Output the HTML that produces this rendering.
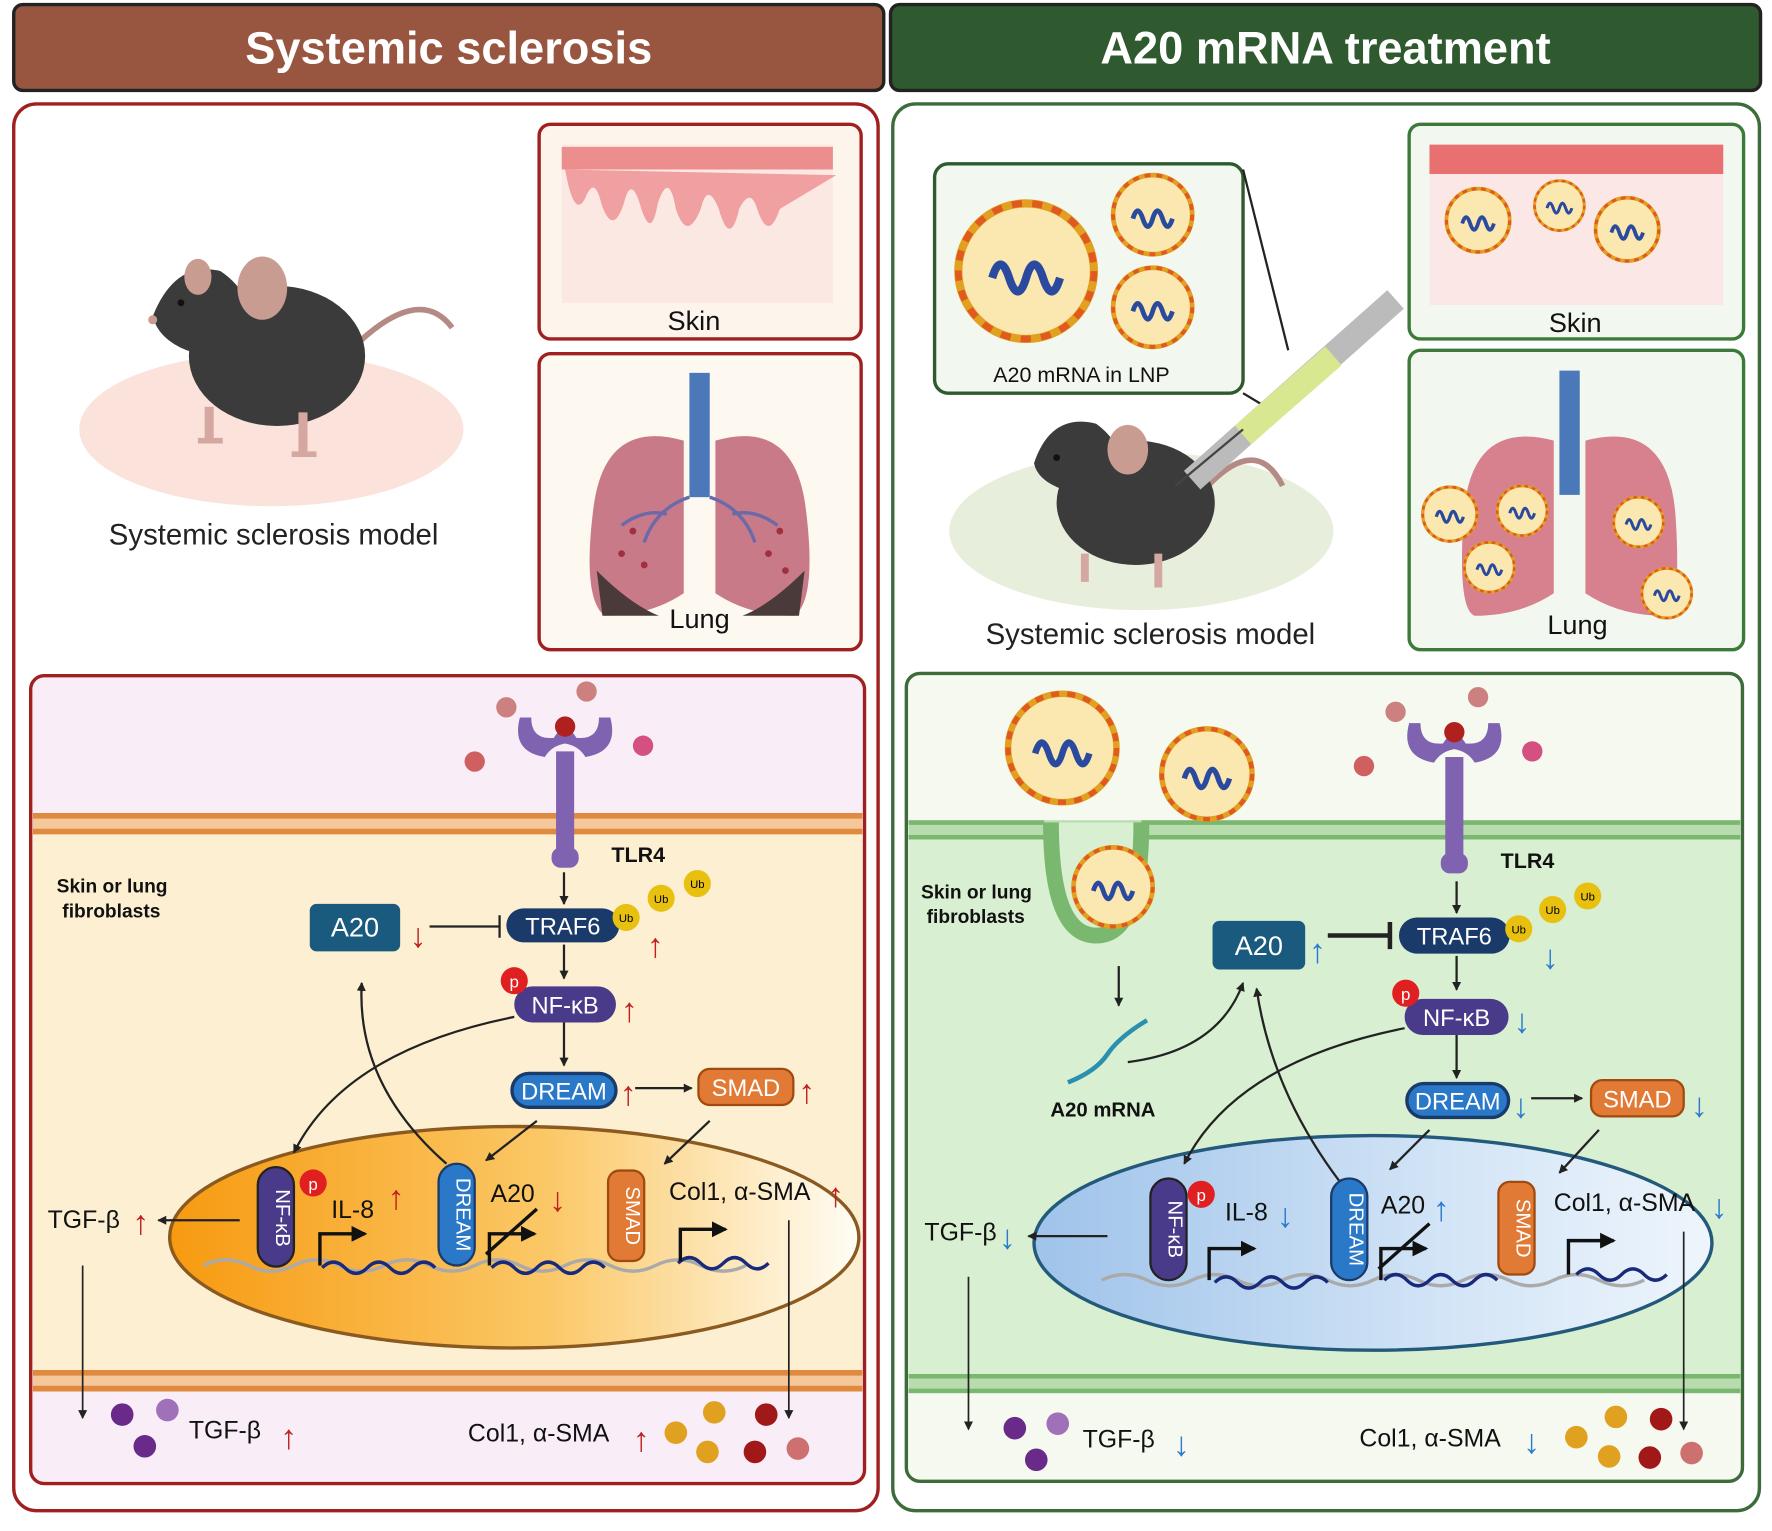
<!DOCTYPE html>
<html><head><meta charset="utf-8"><style>
html,body{margin:0;padding:0;background:#fff}
svg{display:block}
text{font-family:"Liberation Sans",sans-serif}
.ur{font-size:30px;fill:#c02020;font-weight:bold}
.ub{font-size:30px;fill:#2a7ad0;font-weight:bold}
</style></head><body>
<svg width="1772" height="1531" viewBox="0 0 1568 1355" xmlns="http://www.w3.org/2000/svg">
<defs>
<linearGradient id="ng1" x1="0" x2="1"><stop offset="0" stop-color="#f79a10"/><stop offset="0.55" stop-color="#fbc867"/><stop offset="1" stop-color="#fffdf5"/></linearGradient>
<linearGradient id="ng2" x1="0" x2="1"><stop offset="0" stop-color="#9fc3ea"/><stop offset="0.6" stop-color="#d2e4f6"/><stop offset="1" stop-color="#eef5fc"/></linearGradient>
<marker id="ar" markerWidth="8" markerHeight="8" refX="7" refY="4" orient="auto" markerUnits="userSpaceOnUse"><path d="M0,0 L8,4 L0,8 z" fill="#222"/></marker>
<marker id="arb" markerWidth="14" markerHeight="14" refX="12" refY="7" orient="auto" markerUnits="userSpaceOnUse"><path d="M0,0 L14,7 L0,14 z" fill="#111"/></marker>
<g id="lnp"><circle r="1" fill="#fbe7b0" stroke="#e2a020" stroke-width="0.12"/><circle r="1" fill="none" stroke="#e05a20" stroke-width="0.1" stroke-dasharray="0.15 0.15"/><path d="M-0.5,0.1 q0.12,-0.4 0.25,0 t0.25,0 t0.25,0 t0.25,0" fill="none" stroke="#2a4aa0" stroke-width="0.12"/></g>
<g id="tlr"><path d="M-40,-30 q-8,30 22,35 q6,-10 18,-12 q12,2 18,12 q30,-5 22,-35 l-10,0 q0,20 -20,18 q-10,-16 -20,0 q-20,2 -20,-18 z" fill="#7f62b0"/><rect x="-8" y="0" width="16" height="90" fill="#7f62b0"/><rect x="-12" y="85" width="24" height="18" rx="8" fill="#7f62b0"/><circle cx="0" cy="-22" r="9" fill="#b0201f"/></g>
</defs>

<rect x="12" y="4" width="770" height="76" rx="8" fill="#985640" stroke="#222" stroke-width="3"/>
<text x="397" y="56" font-size="40" font-weight="bold" fill="#fff" text-anchor="middle">Systemic sclerosis</text>
<rect x="788" y="4" width="770" height="76" rx="8" fill="#2f5a2f" stroke="#222" stroke-width="3"/>
<text x="1173" y="56" font-size="40" font-weight="bold" fill="#fff" text-anchor="middle">A20 mRNA treatment</text>

<rect x="12" y="92" width="765" height="1245" rx="20" fill="#fff" stroke="#a02020" stroke-width="3"/>
<rect x="790" y="92" width="767" height="1245" rx="20" fill="#fff" stroke="#3d6b3a" stroke-width="3"/>

<!-- LEFT top -->
<ellipse cx="240" cy="380" rx="170" ry="68" fill="#fbe3dc"/>
<path d="M310,310 q60,-60 90,-20" fill="none" stroke="#b58a85" stroke-width="5"/>
<ellipse cx="245" cy="315" rx="78" ry="62" fill="#3b3b3b"/>
<path d="M135,280 q20,-50 60,-40 q30,20 30,60 q-30,20 -60,10 q-25,-10 -30,-30z" fill="#3b3b3b"/>
<ellipse cx="232" cy="255" rx="22" ry="28" fill="#c99c92"/>
<ellipse cx="175" cy="245" rx="12" ry="16" fill="#c99c92"/>
<circle cx="160" cy="268" r="3" fill="#111"/>
<circle cx="135" cy="283" r="4" fill="#c99c92"/>
<path d="M185,360 l0,28 M268,365 l0,35" stroke="#d4a8a0" stroke-width="8"/>
<path d="M175,390 h22 M258,402 h22" stroke="#d4a8a0" stroke-width="5"/>
<text x="242" y="482" font-size="26" text-anchor="middle" fill="#222">Systemic sclerosis model</text>

<rect x="477" y="110" width="285" height="190" rx="10" fill="#fdf5ec" stroke="#a02020" stroke-width="3"/>
<rect x="497" y="128" width="240" height="140" fill="#fbe8e2"/>
<path d="M497,130 h240 v20 h-240z" fill="#ec8e8e"/>
<path d="M500,150 q8,45 18,25 q8,-20 14,5 q10,30 20,0 q6,-25 14,0 q10,35 16,0 q10,-30 16,5 q10,30 22,0 q6,-25 16,0 q10,35 18,0 q10,-20 16,0 q10,30 20,0 l50,-30z" fill="#f0a0a0"/>
<text x="614" y="292" font-size="24" text-anchor="middle" fill="#111">Skin</text>

<rect x="477" y="313" width="285" height="262" rx="10" fill="#fdf8f0" stroke="#a02020" stroke-width="3"/>
<path d="M605,390 q-70,-20 -80,60 q-10,80 10,95 q40,0 70,-20 z" fill="#c97a88"/>
<path d="M633,390 q70,-20 80,60 q10,80 -10,95 q-40,0 -70,-20 z" fill="#c97a88"/>
<rect x="610" y="330" width="18" height="110" fill="#4a78b8"/>
<path d="M610,440 q-30,10 -40,40 M590,455 q-20,-5 -40,10 M628,440 q30,10 40,40 M648,455 q20,-5 40,10" stroke="#6a6aa8" stroke-width="3" fill="none"/>
<path d="M528,505 q30,30 55,40 l-50,0 z M712,505 q-30,30 -55,40 l50,0 z" fill="#4a3a3a"/>
<g fill="#a03040"><circle cx="550" cy="490" r="3"/><circle cx="570" cy="500" r="3"/><circle cx="680" cy="490" r="3"/><circle cx="695" cy="505" r="3"/><circle cx="560" cy="470" r="3"/><circle cx="690" cy="470" r="3"/></g>
<text x="619" y="556" font-size="24" text-anchor="middle" fill="#111">Lung</text>

<!-- LEFT cell -->
<rect x="27" y="598" width="738" height="715" rx="12" fill="#f9eef8" stroke="#a02020" stroke-width="3"/>
<rect x="29" y="738" width="734" height="475" fill="#fdf0d2"/>
<rect x="29" y="720" width="734" height="18" fill="#f4c89a"/>
<path d="M29,722 h734 M29,736 h734" stroke="#e08a40" stroke-width="5"/>
<rect x="29" y="1213" width="734" height="18" fill="#f4c89a"/>
<path d="M29,1215 h734 M29,1229 h734" stroke="#e08a40" stroke-width="5"/>
<ellipse cx="455" cy="1095" rx="305" ry="98" fill="url(#ng1)" stroke="#8a5a20" stroke-width="3"/>
<circle cx="448" cy="626" r="9" fill="#cc8080"/><circle cx="519" cy="612" r="9" fill="#cc8080"/><circle cx="420" cy="674" r="9" fill="#d06060"/><circle cx="569" cy="660" r="9" fill="#d45080"/>
<use href="#tlr" transform="translate(500,665)"/>
<text x="541" y="763" font-size="19" font-weight="bold" fill="#111">TLR4</text>
<text x="50" y="790" font-size="17" font-weight="bold" fill="#111">Skin or lung</text>
<text x="55" y="812" font-size="17" font-weight="bold" fill="#111">fibroblasts</text>
<rect x="274" y="800" width="80" height="42" rx="6" fill="#1a5a7e"/>
<text x="314" y="829" font-size="24" fill="#fff" text-anchor="middle">A20</text>
<text x="370" y="838" class="ur" text-anchor="middle">↓</text>
<path d="M380,820 h62 M442,810 v20" stroke="#222" stroke-width="2"/>
<rect x="448" y="804" width="100" height="30" rx="15" fill="#1a3a6a"/>
<text x="498" y="827" font-size="21" fill="#fff" text-anchor="middle">TRAF6</text>
<circle cx="554" cy="812" r="12" fill="#e8c010"/><circle cx="585" cy="795" r="12" fill="#e8c010"/><circle cx="617" cy="782" r="12" fill="#e8c010"/>
<text x="554" y="816" font-size="10" text-anchor="middle">Ub</text><text x="585" y="799" font-size="10" text-anchor="middle">Ub</text><text x="617" y="786" font-size="10" text-anchor="middle">Ub</text>
<text x="580" y="847" class="ur" text-anchor="middle">↑</text>
<path d="M499,772 v28" stroke="#222" stroke-width="2" marker-end="url(#ar)"/>
<path d="M499,836 v30" stroke="#222" stroke-width="2" marker-end="url(#ar)"/>
<path d="M499,905 v38" stroke="#222" stroke-width="2" marker-end="url(#ar)"/>
<rect x="455" y="873" width="90" height="32" rx="16" fill="#4a3a8a"/>
<text x="500" y="897" font-size="21" fill="#fff" text-anchor="middle">NF-κB</text>
<circle cx="455" cy="868" r="12" fill="#e02020"/><text x="455" y="874" font-size="15" fill="#fff" text-anchor="middle">p</text>
<text x="557" y="904" class="ur" text-anchor="middle">↑</text>
<rect x="453" y="950" width="92" height="30" rx="15" fill="#2a78c8" stroke="#1a3a6a" stroke-width="3"/>
<text x="499" y="973" font-size="21" fill="#fff" text-anchor="middle">DREAM</text>
<text x="556" y="978" class="ur" text-anchor="middle">↑</text>
<path d="M562,963 h50" stroke="#222" stroke-width="2" marker-end="url(#ar)"/>
<rect x="618" y="946" width="84" height="32" rx="10" fill="#e07a35" stroke="#a04a10" stroke-width="2"/>
<text x="660" y="970" font-size="21" fill="#fff" text-anchor="middle">SMAD</text>
<text x="714" y="976" class="ur" text-anchor="middle">↑</text>
<path d="M455,900 q-150,30 -195,120" fill="none" stroke="#222" stroke-width="2" marker-end="url(#ar)"/>
<path d="M395,1030 q-80,-70 -75,-160" fill="none" stroke="#222" stroke-width="2" marker-end="url(#ar)"/>
<path d="M475,992 l-45,35" stroke="#222" stroke-width="2" marker-end="url(#ar)"/>
<path d="M628,992 l-40,38" stroke="#222" stroke-width="2" marker-end="url(#ar)"/>
<path d="M180,1120 q20,-10 40,0 t40,0 t40,0 t40,0 t40,0 t40,0 t40,0 t40,0 t40,0 t40,0 t40,0 t40,0" fill="none" stroke="#aaa" stroke-width="3"/>
<path d="M285,1122 q10,-10 20,0 t20,0 t20,0 t20,0 t20,0 M435,1122 q10,-10 20,0 t20,0 t20,0 t20,0 t20,0 M600,1118 q10,-10 20,0 t20,0 t20,0 t20,0" fill="none" stroke="#1a2a7a" stroke-width="3"/>
<rect x="228" y="1033" width="32" height="88" rx="16" fill="#4a3a8a" stroke="#222" stroke-width="2"/>
<text x="244" y="1078" font-size="18" fill="#fff" text-anchor="middle" transform="rotate(90 244 1078)">NF-κB</text>
<circle cx="277" cy="1047" r="12" fill="#e02020"/><text x="277" y="1053" font-size="15" fill="#fff" text-anchor="middle">p</text>
<text x="293" y="1078" font-size="22" fill="#111">IL-8</text><text x="343" y="1070" class="ur">↑</text>
<path d="M283,1120 v-28 h40" fill="none" stroke="#111" stroke-width="3" marker-end="url(#arb)"/>
<rect x="388" y="1030" width="32" height="90" rx="16" fill="#2a78c8" stroke="#1a3a6a" stroke-width="2"/>
<text x="404" y="1075" font-size="18" fill="#fff" text-anchor="middle" transform="rotate(90 404 1075)">DREAM</text>
<text x="434" y="1064" font-size="22" fill="#111">A20</text><text x="486" y="1072" class="ur">↓</text>
<path d="M433,1120 v-28 h40" fill="none" stroke="#111" stroke-width="3" marker-end="url(#arb)"/>
<path d="M430,1110 l45,-40" stroke="#111" stroke-width="3"/>
<rect x="538" y="1036" width="32" height="80" rx="10" fill="#e07a35" stroke="#a04a10" stroke-width="2"/>
<text x="554" y="1076" font-size="18" fill="#fff" text-anchor="middle" transform="rotate(90 554 1076)">SMAD</text>
<text x="592" y="1062" font-size="22" fill="#111">Col1, α-SMA</text><text x="732" y="1068" class="ur">↑</text>
<path d="M602,1116 v-28 h40" fill="none" stroke="#111" stroke-width="3" marker-end="url(#arb)"/>
<text x="42" y="1087" font-size="22" fill="#111">TGF-β</text><text x="117" y="1092" class="ur">↑</text>
<path d="M212,1080 h-72" stroke="#222" stroke-width="2" marker-end="url(#ar)"/>
<path d="M73,1120 v135" stroke="#222" stroke-width="1.5" marker-end="url(#ar)"/>
<path d="M698,1080 v175" stroke="#222" stroke-width="1.5" marker-end="url(#ar)"/>
<circle cx="108" cy="1252" r="10" fill="#6a2a8a"/><circle cx="148" cy="1248" r="10" fill="#a070b8"/><circle cx="128" cy="1280" r="10" fill="#6a2a8a"/>
<text x="167" y="1273" font-size="22" fill="#111">TGF-β</text><text x="248" y="1282" class="ur">↑</text>
<text x="414" y="1276" font-size="22" fill="#111">Col1, α-SMA</text><text x="560" y="1284" class="ur">↑</text>
<circle cx="598" cy="1268" r="10" fill="#e0a020"/><circle cx="632" cy="1250" r="10" fill="#e0a020"/><circle cx="626" cy="1285" r="10" fill="#e0a020"/><circle cx="678" cy="1252" r="10" fill="#a01818"/><circle cx="668" cy="1285" r="10" fill="#a01818"/><circle cx="706" cy="1282" r="10" fill="#cc7070"/>

<!-- RIGHT top -->
<rect x="827" y="145" width="273" height="203" rx="12" fill="#f2f8f0" stroke="#2f5a2f" stroke-width="3"/>
<use href="#lnp" transform="translate(908,240) scale(60)"/>
<use href="#lnp" transform="translate(1020,190) scale(35)"/>
<use href="#lnp" transform="translate(1020,272) scale(35)"/>
<text x="957" y="338" font-size="19" text-anchor="middle" fill="#111">A20 mRNA in LNP</text>
<path d="M1100,150 L1140,310 M1100,348 L1120,360" stroke="#222" stroke-width="2"/>
<ellipse cx="1010" cy="470" rx="170" ry="70" fill="#e8eedc"/>
<path d="M1060,440 q50,-60 75,-10" fill="none" stroke="#b58a85" stroke-width="5"/>
<ellipse cx="1005" cy="445" rx="70" ry="55" fill="#3b3b3b"/>
<path d="M915,410 q15,-45 55,-35 q25,18 25,50 q-30,18 -55,8 q-22,-8 -25,-23z" fill="#3b3b3b"/>
<ellipse cx="998" cy="398" rx="18" ry="22" fill="#c99c92"/>
<circle cx="935" cy="405" r="3" fill="#111"/>
<path d="M960,490 v25 M1025,490 v30" stroke="#d4a8a0" stroke-width="7"/>
<path d="M1055,425 L1235,265" stroke="#bbb" stroke-width="22"/>
<path d="M1100,385 L1180,315" stroke="#d8e890" stroke-width="22"/>
<path d="M1040,430 L1100,380" stroke="#444" stroke-width="2"/>
<text x="1018" y="570" font-size="26" text-anchor="middle" fill="#222">Systemic sclerosis model</text>

<rect x="1247" y="110" width="296" height="190" rx="10" fill="#f2f8f0" stroke="#3d7a3a" stroke-width="3"/>
<rect x="1265" y="128" width="260" height="142" fill="#fbe8e6"/>
<rect x="1265" y="128" width="260" height="26" fill="#e87070"/>
<use href="#lnp" transform="translate(1308,195) scale(28)"/><use href="#lnp" transform="translate(1380,182) scale(22)"/><use href="#lnp" transform="translate(1440,203) scale(28)"/>
<text x="1394" y="294" font-size="24" text-anchor="middle" fill="#111">Skin</text>
<rect x="1247" y="310" width="296" height="265" rx="10" fill="#f2f8f0" stroke="#3d7a3a" stroke-width="3"/>
<path d="M1375,390 q-75,-20 -80,70 q-5,80 10,85 q40,0 70,-20 z" fill="#d7808e"/>
<path d="M1403,390 q75,-20 80,70 q5,80 -10,85 q-40,0 -70,-20 z" fill="#d7808e"/>
<rect x="1380" y="328" width="18" height="110" fill="#4a78b8"/>
<use href="#lnp" transform="translate(1283,455) scale(24)"/><use href="#lnp" transform="translate(1347,452) scale(22)"/><use href="#lnp" transform="translate(1450,462) scale(22)"/><use href="#lnp" transform="translate(1318,502) scale(22)"/><use href="#lnp" transform="translate(1475,525) scale(22)"/>
<text x="1396" y="561" font-size="24" text-anchor="middle" fill="#111">Lung</text>

<!-- RIGHT cell -->
<rect x="802" y="596" width="740" height="715" rx="12" fill="#f5f9f0" stroke="#3d6b3a" stroke-width="3"/>
<rect x="804" y="743" width="736" height="475" fill="#d9efd1"/>
<rect x="804" y="726" width="736" height="17" fill="#b8dcae"/>
<path d="M804,728 h120 M1010,728 h530 M804,741 h135 M995,741 h545" stroke="#7ab870" stroke-width="4"/>
<path d="M930,728 q0,100 40,100 q40,0 40,-100" fill="#d9efd1" stroke="#7ab870" stroke-width="14"/>
<rect x="804" y="1216" width="736" height="17" fill="#b8dcae"/>
<path d="M804,1218 h736 M804,1231 h736" stroke="#7ab870" stroke-width="4"/>
<ellipse cx="1215" cy="1100" rx="300" ry="95" fill="url(#ng2)" stroke="#23597a" stroke-width="3"/>
<use href="#lnp" transform="translate(940,662) scale(48)"/><use href="#lnp" transform="translate(1068,685) scale(40)"/><use href="#lnp" transform="translate(985,785) scale(35)"/>
<circle cx="1235" cy="630" r="9" fill="#cc8080"/><circle cx="1308" cy="617" r="9" fill="#cc8080"/><circle cx="1207" cy="678" r="9" fill="#d06060"/><circle cx="1356" cy="665" r="9" fill="#d45080"/>
<use href="#tlr" transform="translate(1287,670)"/>
<text x="1328" y="768" font-size="19" font-weight="bold" fill="#111">TLR4</text>
<text x="815" y="795" font-size="17" font-weight="bold" fill="#111">Skin or lung</text>
<text x="820" y="817" font-size="17" font-weight="bold" fill="#111">fibroblasts</text>
<path d="M990,855 v35" stroke="#222" stroke-width="2" marker-end="url(#ar)"/>
<path d="M945,958 q25,-10 35,-25 t35,-30" fill="none" stroke="#2a90b0" stroke-width="4"/>
<text x="976" y="988" font-size="18" font-weight="bold" text-anchor="middle" fill="#111">A20 mRNA</text>
<path d="M998,940 q80,-10 102,-70" fill="none" stroke="#222" stroke-width="2" marker-end="url(#ar)"/>
<rect x="1073" y="815" width="82" height="43" rx="6" fill="#1a5a7e"/>
<text x="1114" y="845" font-size="24" fill="#fff" text-anchor="middle">A20</text>
<text x="1166" y="852" class="ub" text-anchor="middle">↑</text>
<path d="M1175,828 h55 M1230,816 v24" stroke="#222" stroke-width="4"/>
<rect x="1238" y="812" width="98" height="32" rx="16" fill="#1a3a6a"/>
<text x="1287" y="836" font-size="21" fill="#fff" text-anchor="middle">TRAF6</text>
<circle cx="1344" cy="822" r="12" fill="#e8c010"/><circle cx="1374" cy="805" r="12" fill="#e8c010"/><circle cx="1405" cy="793" r="12" fill="#e8c010"/>
<text x="1344" y="826" font-size="10" text-anchor="middle">Ub</text><text x="1374" y="809" font-size="10" text-anchor="middle">Ub</text><text x="1405" y="797" font-size="10" text-anchor="middle">Ub</text>
<text x="1372" y="857" class="ub" text-anchor="middle">↓</text>
<path d="M1289,780 v28" stroke="#222" stroke-width="2" marker-end="url(#ar)"/>
<path d="M1289,846 v30" stroke="#222" stroke-width="2" marker-end="url(#ar)"/>
<path d="M1289,916 v38" stroke="#222" stroke-width="2" marker-end="url(#ar)"/>
<rect x="1243" y="884" width="92" height="32" rx="16" fill="#4a3a8a"/>
<text x="1289" y="908" font-size="21" fill="#fff" text-anchor="middle">NF-κB</text>
<circle cx="1244" cy="879" r="12" fill="#e02020"/><text x="1244" y="885" font-size="15" fill="#fff" text-anchor="middle">p</text>
<text x="1347" y="914" class="ub" text-anchor="middle">↓</text>
<rect x="1245" y="959" width="90" height="30" rx="15" fill="#2a78c8" stroke="#1a3a6a" stroke-width="3"/>
<text x="1290" y="982" font-size="21" fill="#fff" text-anchor="middle">DREAM</text>
<text x="1346" y="989" class="ub" text-anchor="middle">↓</text>
<path d="M1355,972 h45" stroke="#222" stroke-width="2" marker-end="url(#ar)"/>
<rect x="1408" y="956" width="82" height="32" rx="10" fill="#e07a35" stroke="#a04a10" stroke-width="2"/>
<text x="1449" y="980" font-size="21" fill="#fff" text-anchor="middle">SMAD</text>
<text x="1504" y="988" class="ub" text-anchor="middle">↓</text>
<path d="M1243,910 q-150,30 -195,120" fill="none" stroke="#222" stroke-width="2" marker-end="url(#ar)"/>
<path d="M1185,1045 q-60,-80 -73,-170" fill="none" stroke="#222" stroke-width="2" marker-end="url(#ar)"/>
<path d="M1265,1000 l-35,35" stroke="#222" stroke-width="2" marker-end="url(#ar)"/>
<path d="M1415,1000 l-35,38" stroke="#222" stroke-width="2" marker-end="url(#ar)"/>
<path d="M975,1133 q20,-10 40,0 t40,0 t40,0 t40,0 t40,0 t40,0 t40,0 t40,0 t40,0 t40,0 t40,0 t40,0" fill="none" stroke="#aaa" stroke-width="3"/>
<path d="M1075,1135 q10,-10 20,0 t20,0 t20,0 t20,0 t20,0 M1225,1133 q10,-10 20,0 t20,0 t20,0 t20,0 t20,0 M1395,1128 q10,-10 20,0 t20,0 t20,0 t20,0" fill="none" stroke="#1a2a7a" stroke-width="3"/>
<rect x="1018" y="1043" width="32" height="90" rx="16" fill="#4a3a8a" stroke="#222" stroke-width="2"/>
<text x="1034" y="1088" font-size="18" fill="#fff" text-anchor="middle" transform="rotate(90 1034 1088)">NF-κB</text>
<circle cx="1063" cy="1057" r="12" fill="#e02020"/><text x="1063" y="1063" font-size="15" fill="#fff" text-anchor="middle">p</text>
<text x="1084" y="1080" font-size="22" fill="#111">IL-8</text><text x="1130" y="1086" class="ub">↓</text>
<path d="M1070,1133 v-28 h40" fill="none" stroke="#111" stroke-width="3" marker-end="url(#arb)"/>
<rect x="1178" y="1043" width="32" height="90" rx="16" fill="#2a78c8" stroke="#1a3a6a" stroke-width="2"/>
<text x="1194" y="1088" font-size="18" fill="#fff" text-anchor="middle" transform="rotate(90 1194 1088)">DREAM</text>
<text x="1222" y="1074" font-size="22" fill="#111">A20</text><text x="1268" y="1080" class="ub">↑</text>
<path d="M1222,1133 v-28 h40" fill="none" stroke="#111" stroke-width="3" marker-end="url(#arb)"/>
<path d="M1220,1123 l45,-40" stroke="#111" stroke-width="3"/>
<rect x="1326" y="1046" width="32" height="82" rx="10" fill="#e07a35" stroke="#a04a10" stroke-width="2"/>
<text x="1342" y="1087" font-size="18" fill="#fff" text-anchor="middle" transform="rotate(90 1342 1087)">SMAD</text>
<text x="1375" y="1072" font-size="22" fill="#111">Col1, α-SMA</text><text x="1514" y="1078" class="ub">↓</text>
<path d="M1388,1128 v-30 h40" fill="none" stroke="#111" stroke-width="3" marker-end="url(#arb)"/>
<text x="818" y="1098" font-size="22" fill="#111">TGF-β</text><text x="884" y="1105" class="ub">↓</text>
<path d="M980,1094 h-70" stroke="#222" stroke-width="2" marker-end="url(#ar)"/>
<path d="M857,1130 v135" stroke="#222" stroke-width="1.5" marker-end="url(#ar)"/>
<path d="M1490,1090 v175" stroke="#222" stroke-width="1.5" marker-end="url(#ar)"/>
<circle cx="898" cy="1264" r="10" fill="#6a2a8a"/><circle cx="936" cy="1260" r="10" fill="#a070b8"/><circle cx="917" cy="1292" r="10" fill="#6a2a8a"/>
<text x="958" y="1281" font-size="22" fill="#111">TGF-β</text><text x="1038" y="1288" class="ub">↓</text>
<text x="1203" y="1280" font-size="22" fill="#111">Col1, α-SMA</text><text x="1348" y="1286" class="ub">↓</text>
<circle cx="1395" cy="1272" r="10" fill="#e0a020"/><circle cx="1430" cy="1254" r="10" fill="#e0a020"/><circle cx="1424" cy="1289" r="10" fill="#e0a020"/><circle cx="1470" cy="1256" r="10" fill="#a01818"/><circle cx="1460" cy="1290" r="10" fill="#a01818"/><circle cx="1497" cy="1286" r="10" fill="#cc7070"/>
</svg>
</body></html>
